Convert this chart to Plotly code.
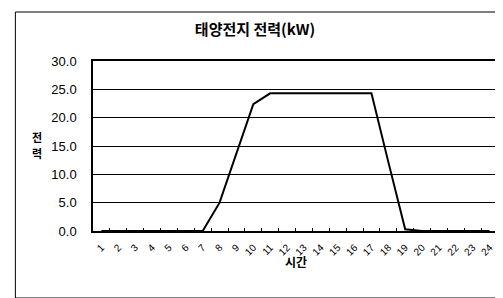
import plotly.graph_objects as go

hours = [str(h) for h in range(1, 25)]
power = [0, 0, 0, 0, 0, 0, 0, 5.0, 13.7, 22.4, 24.3, 24.3, 24.3, 24.3,
         24.3, 24.3, 24.3, 12.2, 0.3, 0, 0, 0, 0, 0]
y_ticks = [0, 5, 10, 15, 20, 25, 30]

W, H = 503, 298
L, R, T, B = 85, 11, 53, 75
pw, ph = W - L - R, H - T - B

def px(x):
    return (x - L) / pw

def py(y):
    return 1 - (y - T) / ph

fig = go.Figure()
fig.add_trace(go.Scatter(x=hours, y=power, mode="lines",
                         line=dict(color="black", width=2), showlegend=False))

fig.update_layout(
    width=W, height=H,
    margin=dict(l=L, r=R, t=T, b=B),
    paper_bgcolor="white", plot_bgcolor="white",
    font=dict(family="Liberation Sans, Arial, sans-serif", color="black", size=12),
    title=dict(text="<b>태양전지 전력(kW)</b>", x=247 / W, xanchor="center",
               xref="container", yref="container",
               y=1 - 22 / H, yanchor="middle",
               font=dict(family="Noto Sans CJK KR", size=15, color="black")),
    xaxis=dict(type="category", showline=True, linecolor="black", linewidth=1.5,
               mirror=True, ticks="inside", ticklen=3, tickcolor="black",
               tickson="boundaries", tickangle=-45, showgrid=False,
               ticklabelstandoff=5,
               tickfont=dict(size=10), range=[-0.5, 23.5]),
    yaxis=dict(range=[0, 30], tickvals=y_ticks, tickformat=".1f",
               showline=True, linecolor="black", linewidth=1.5, mirror=True,
               showgrid=True, gridcolor="black", gridwidth=1, ticks="",
               ticklabelstandoff=12,
               zeroline=False, tickfont=dict(size=13)),
    annotations=[
        dict(text="<b>전</b>", x=px(22), y=py(129), xref="paper", yref="paper",
             showarrow=False, font=dict(family="Noto Sans CJK KR", size=11)),
        dict(text="<b>력</b>", x=px(22), y=py(145), xref="paper", yref="paper",
             showarrow=False, font=dict(family="Noto Sans CJK KR", size=11)),
        dict(text="<b>시간</b>", x=px(289), y=py(264), xref="paper", yref="paper",
             showarrow=False, font=dict(family="Noto Sans CJK KR", size=12)),
    ],
    shapes=[dict(type="rect", xref="paper", yref="paper",
                 x0=px(7), x1=px(500), y0=py(290), y1=py(4),
                 line=dict(color="black", width=1))],
)

fig.write_html("out.html")
